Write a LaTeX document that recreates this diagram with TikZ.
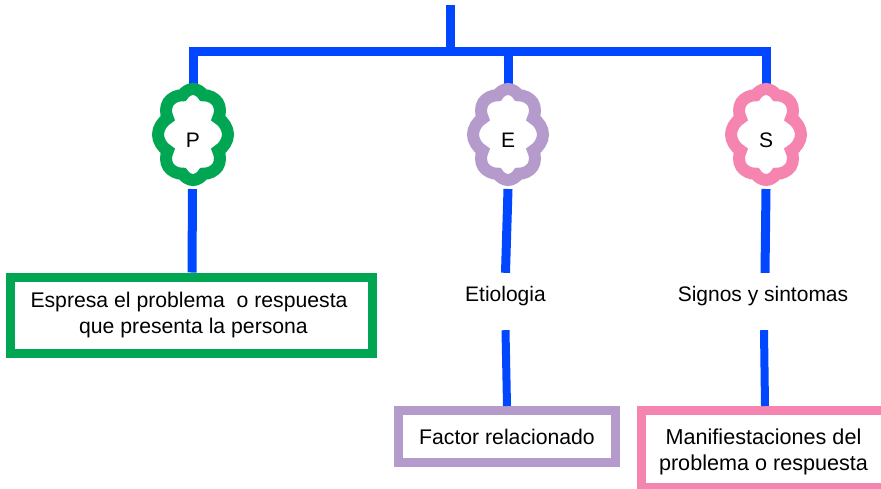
\documentclass[tikz,border=0pt]{standalone}
\usepackage{fontspec}
\setmainfont{Liberation Sans}
\usetikzlibrary{shapes.symbols}
\definecolor{pgreen}{HTML}{00A651}
\definecolor{epurple}{HTML}{B59BCC}
\definecolor{spink}{HTML}{F585B0}
\definecolor{linkblue}{HTML}{0047FF}
\tikzset{
	x=1pt,y=-1pt,
	link/.style={draw=linkblue,line width=9pt},
	lowlink/.style={draw=linkblue,line width=8pt},
	puff/.style={cloud,cloud puffs=8,cloud puff arc=125,shape aspect=0.8,draw=#1,line width=12pt,fill=white,minimum width=70pt,minimum height=91pt,inner sep=0pt,text height=25pt,text depth=0pt,font=\fontsize{21}{22}\selectfont},
	box/.style={draw=#1,line width=9pt,fill=white,inner sep=0pt,align=center,font=\fontsize{21.2}{26}\selectfont},
	plain/.style={inner sep=0pt,minimum height=57pt,font=\fontsize{21}{22}\selectfont}
}
\begin{document}
\begin{tikzpicture}
	\useasboundingbox (0,0) rectangle (881,488);
	\coordinate (top) at (450,5);
	\coordinate (bus) at (450,51);
	\coordinate (busP) at (193,51);
	\coordinate (busE) at (508,51);
	\coordinate (busS) at (766,51);
	\draw[link] (top) -- (bus);
	\draw[link] ([xshift=-4.5pt]busP) -- ([xshift=4.5pt]busS);
	\draw[link] (busP) -- (193,100);
	\draw[link] (busE) -- (508,100);
	\draw[link] (busS) -- (766,100);
	% clouds
	\node[puff=pgreen] (P) at (193,134.5) {P};
	\node[puff=epurple] (E) at (508,134.5) {E};
	\node[puff=spink] (S) at (766,134.5) {S};
	% labels and boxes
	\node[plain] (etiologia) at (505.5,301.5) {\raisebox{15pt}{Etiologia}};
	\node[plain] (signos) at (763,301.5) {\raisebox{15pt}{Signos y sintomas}};
	\node[box=pgreen,minimum width=362pt,minimum height=76pt] (problema) at (191.5,315) {\raisebox{-3pt}{\hspace*{-5pt}Espresa el problema\ \ o respuesta}\\\raisebox{-3pt}{\hspace*{4pt}que presenta la persona}};
	\node[box=epurple,minimum width=217pt,minimum height=52pt] (factor) at (507,436.5) {Factor relacionado};
	\node[box=spink,minimum width=270pt,minimum height=77pt] (manifest) at (776.5,449) {};
	\node[align=center,inner sep=0pt,font=\fontsize{21.6}{26}\selectfont] (manifesttext) at (763.5,451.5) {Manifiestaciones del\\problema o respuesta};
	\draw[link] (192.5,189) -- (problema.north -| 192,0);
	\draw[link] (508,189) -- (etiologia.north);
	\draw[link] (766,189) -- (signos.north -| 765,0);
	\draw[lowlink] (etiologia.south) -- (factor.north);
	\draw[lowlink] (signos.south -| 764,0) -- (manifest.north -| 765,0);
\end{tikzpicture}
\end{document}
